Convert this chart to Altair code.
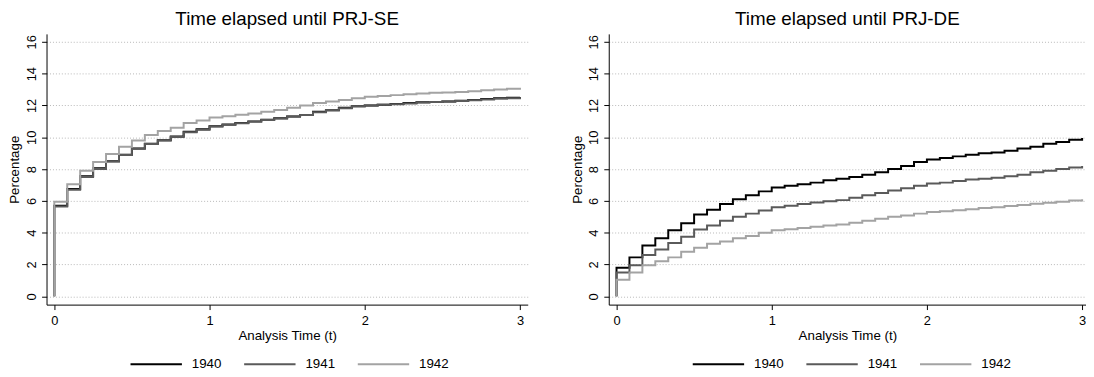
import altair as alt
import pandas as pd

# ---- data (cumulative percentage at each month, t = month / 12) ----
cohorts = ["1940", "1941", "1942"]
colors = ["#000000", "#5a5a5a", "#a3a3a3"]

se_1940 = [5.70, 6.75, 7.55, 8.05, 8.50, 8.90, 9.30, 9.60, 9.82, 10.05, 10.35, 10.50,
           10.70, 10.80, 10.90, 11.00, 11.10, 11.20, 11.30, 11.40, 11.60, 11.70, 11.85, 11.95,
           12.00, 12.05, 12.10, 12.15, 12.20, 12.22, 12.25, 12.30, 12.35, 12.40, 12.45, 12.48, 12.52]
se_1941 = [5.65, 6.70, 7.50, 8.00, 8.48, 8.88, 9.28, 9.58, 9.80, 10.02, 10.32, 10.48,
           10.68, 10.78, 10.88, 10.98, 11.08, 11.18, 11.30, 11.40, 11.58, 11.70, 11.82, 11.95,
           12.00, 12.04, 12.08, 12.13, 12.18, 12.22, 12.25, 12.28, 12.33, 12.38, 12.43, 12.46, 12.50]
se_1942 = [5.95, 7.05, 7.90, 8.45, 8.95, 9.40, 9.80, 10.15, 10.40, 10.60, 10.90, 11.05,
           11.25, 11.32, 11.42, 11.50, 11.60, 11.72, 11.85, 12.00, 12.15, 12.25, 12.35, 12.45,
           12.55, 12.60, 12.65, 12.70, 12.75, 12.80, 12.82, 12.85, 12.90, 12.95, 13.00, 13.05, 13.12]

de_1940 = [1.80, 2.45, 3.20, 3.65, 4.15, 4.60, 5.15, 5.45, 5.80, 6.10, 6.35, 6.60,
           6.85, 6.95, 7.05, 7.15, 7.30, 7.40, 7.50, 7.65, 7.80, 8.00, 8.20, 8.45,
           8.60, 8.70, 8.80, 8.90, 9.00, 9.05, 9.15, 9.30, 9.40, 9.60, 9.70, 9.85, 9.95]
de_1941 = [1.50, 1.95, 2.60, 2.95, 3.35, 3.75, 4.20, 4.45, 4.75, 5.00, 5.20, 5.40,
           5.60, 5.70, 5.80, 5.90, 5.98, 6.05, 6.20, 6.35, 6.50, 6.65, 6.80, 6.95,
           7.10, 7.15, 7.25, 7.35, 7.40, 7.45, 7.55, 7.65, 7.80, 7.90, 8.00, 8.10, 8.20]
de_1942 = [1.05, 1.50, 1.95, 2.20, 2.45, 2.80, 3.05, 3.30, 3.45, 3.65, 3.80, 4.00,
           4.15, 4.22, 4.30, 4.38, 4.45, 4.52, 4.62, 4.75, 4.88, 5.00, 5.08, 5.20,
           5.30, 5.35, 5.42, 5.48, 5.55, 5.60, 5.68, 5.75, 5.82, 5.88, 5.95, 6.03, 6.10]

y_ticks = [0, 2, 4, 6, 8, 10, 12, 14, 16]
x_ticks = [0, 1, 2, 3]

FONT = "Liberation Sans"


def build_df(series):
    rows = []
    for name, vals in zip(cohorts, series):
        rows.append({"t": 0.0, "pct": 0.0, "cohort": name})
        for m, v in enumerate(vals):
            rows.append({"t": m / 12.0, "pct": v, "cohort": name})
    return pd.DataFrame(rows)


def panel(df, title, width, xmax):
    return (
        alt.Chart(df)
        .mark_line(interpolate="step-after", strokeWidth=2, clip=True)
        .encode(
            x=alt.X("t:Q", scale=alt.Scale(domain=[-0.05, xmax], nice=False, zero=False),
                    axis=alt.Axis(values=x_ticks, format="d", title="Analysis Time (t)",
                                  grid=False, labelPadding=5, titlePadding=1)),
            y=alt.Y("pct:Q", scale=alt.Scale(domain=[-0.52, 16.5], nice=False, zero=False),
                    axis=alt.Axis(values=y_ticks, format="d", title="Percentage",
                                  grid=True, labelAngle=270, labelAlign="center",
                                  labelBaseline="alphabetic", labelPadding=6, titlePadding=4)),
            color=alt.Color("cohort:N",
                            scale=alt.Scale(domain=cohorts, range=colors),
                            legend=alt.Legend(title=None, orient="none", direction="horizontal",
                                              legendX=84, legendY=307,
                                              symbolType="stroke", symbolSize=2704,
                                              symbolStrokeWidth=2, labelOffset=9,
                                              columnPadding=18, labelFontSize=13.5,
                                              labelFont=FONT, labelColor="#000")),
        )
        .properties(width=width, height=274,
                    title=alt.TitleParams(title, fontSize=19, font=FONT, fontWeight="normal",
                                          color="#000", anchor="middle", offset=5))
    )


left = panel(build_df([se_1940, se_1941, se_1942]), "Time elapsed until PRJ-SE", 487, 3.05)
right = panel(build_df([de_1940, de_1941, de_1942]), "Time elapsed until PRJ-DE", 483, 3.025)

chart = (
    alt.hconcat(left, right, spacing=43)
    .resolve_scale(color="independent")
    .resolve_legend(color="independent")
    .properties(padding=0)
    .configure_view(stroke=None)
    .configure_axis(labelFont=FONT, titleFont=FONT, labelFontSize=13, titleFontSize=13.5,
                    labelColor="#000", titleColor="#000", titleFontWeight="normal",
                    domainColor="#000", domainWidth=1, tickColor="#000", tickSize=5,
                    tickWidth=1, gridColor="#b8b8b8", gridDash=[1, 2], gridWidth=1)
)

chart.save("out.html", embed_options={"renderer": "svg", "actions": False})
